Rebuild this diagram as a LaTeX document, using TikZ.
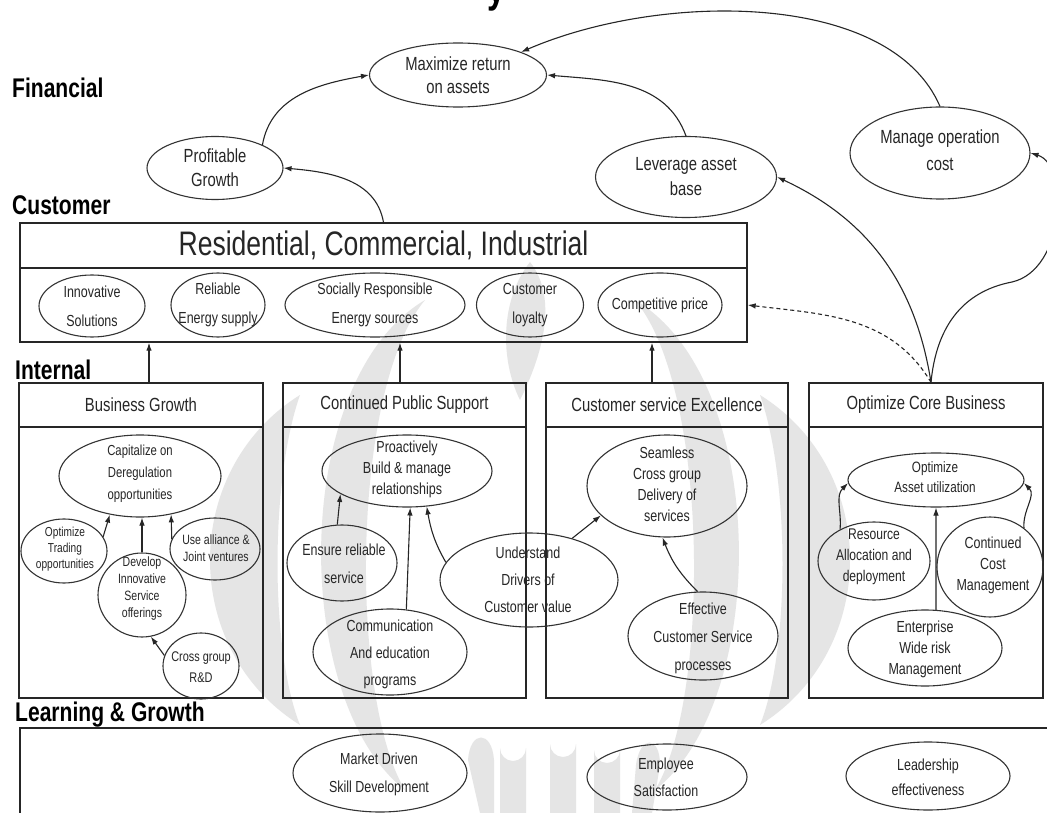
\documentclass[tikz,border=0pt]{standalone}
\usepackage{fontspec}
\setmainfont{Liberation Sans}[FakeStretch=0.78]
\usetikzlibrary{shapes.geometric,arrows.meta}
\begin{document}
\begin{tikzpicture}[x=1pt,y=-1pt,
  oval/.style={ellipse, draw=black!80, line width=1.1pt, inner sep=0pt},
  box/.style={rectangle, draw=black!85, line width=1.4pt, inner sep=0pt},
  arr/.style={draw=black!85, line width=1.1pt, -{Latex[length=8pt,width=5.5pt]}},
  sec/.style={anchor=base west, inner sep=0pt, font=\bfseries\fontsize{27}{27}\selectfont},
  ftxt/.style={align=center, inner sep=0pt, text=black!85, font=\fontsize{19}{24}\selectfont},
  ctxt/.style={align=center, inner sep=0pt, text=black!85, font=\fontsize{16}{29}\selectfont},
  htxt/.style={inner sep=0pt, text=black!85, font=\fontsize{19}{22}\selectfont},
  itxt/.style={align=center, inner sep=0pt, text=black!85, font=\fontsize{16}{#1}\selectfont},
  stxt/.style={align=center, inner sep=0pt, text=black!85, font=\fontsize{13.5}{#1}\selectfont},
  wmark/.style={fill=black!10, draw=none}
]
\useasboundingbox (0,0) rectangle (1047,813);
\clip (0,0) rectangle (1047,813);
\fill[white] (0,0) rectangle (1047,813);

% faint background emblem
\fill[wmark] (300,395) .. controls (180,470) and (180,650) .. (300,725)
  .. controls (270,650) and (270,480) .. cycle;
\fill[wmark] (760,395) .. controls (880,470) and (880,650) .. (760,725)
  .. controls (790,650) and (790,480) .. cycle;
\fill[wmark] (425,300) .. controls (290,380) and (290,700) .. (405,790)
  .. controls (350,700) and (350,390) .. cycle;
\fill[wmark] (635,300) .. controls (770,380) and (770,700) .. (655,790)
  .. controls (710,700) and (710,390) .. cycle;
\fill[wmark] (530,262) .. controls (500,300) and (500,360) .. (520,400)
  .. controls (540,360) and (560,300) .. cycle;
\fill[wmark] (480,813) -- (468,760) .. controls (470,730) and (492,730) .. (494,760) -- (494,813) -- cycle;
\foreach \cx/\cy in {513/748, 563/744, 607/750}
  \fill[wmark] (\cx-13,813) -- (\cx-13,\cy) arc[start angle=180, end angle=0, radius=13] -- (\cx+13,813) -- cycle;
\fill[wmark] (632,813) -- (636,765) .. controls (640,735) and (660,735) .. (660,765) -- (652,813) -- cycle;

% title fragment and perspective labels
\node[anchor=base, inner sep=0pt, font=\bfseries\fontsize{42}{42}\selectfont] (ttl) at (497,3) {y};
\node[sec] (lfin) at (12,98) {Financial};
\node[sec] (lcus) at (12,215) {Customer};
\node[sec] (lint) at (15,379) {Internal};
\node[sec] (llrn) at (15,721) {Learning \& Growth};

% financial objectives
\node[oval, minimum width=177pt, minimum height=64pt] (max) at (458,75) {};
\node[ftxt, font=\fontsize{19}{23}\selectfont] (max-t) at (max) {Maximize return\\on assets};
\node[oval, minimum width=136pt, minimum height=63pt] (prof) at (215,168) {};
\node[ftxt] (prof-t) at (prof) {Profitable\\Growth};
\node[oval, minimum width=181pt, minimum height=81pt] (lev) at (686,177) {};
\node[ftxt, font=\fontsize{19}{25}\selectfont] (lev-t) at (lev) {Leverage asset\\base};
\node[oval, minimum width=180pt, minimum height=92pt] (moc) at (940,153) {};
\node[ftxt, font=\fontsize{19}{27}\selectfont] (moc-t) at (940,150) {Manage operation\\cost};

% customer perspective
\node[box, minimum width=727pt, minimum height=45pt, font=\fontsize{34}{34}\selectfont, text=black!85] (custh) at (383.5,245.5) {Residential, Commercial, Industrial};
\node[box, minimum width=727pt, minimum height=74pt] (custb) at (383.5,305) {};
\node[oval, minimum width=106pt, minimum height=62pt] (inno) at (92,306) {};
\node[ctxt] (inno-t) at (inno) {Innovative\\Solutions};
\node[oval, minimum width=94pt, minimum height=64pt] (reli) at (218,305) {};
\node[ctxt] (reli-t) at (reli) {Reliable\\Energy supply};
\node[oval, minimum width=180pt, minimum height=64pt] (soc) at (375,305) {};
\node[ctxt] (soc-t) at (soc) {Socially Responsible\\Energy sources};
\node[oval, minimum width=107pt, minimum height=64pt] (loy) at (530,305) {};
\node[ctxt] (loy-t) at (loy) {Customer\\loyalty};
\node[oval, minimum width=124pt, minimum height=64pt] (comp) at (660,305) {};
\node[ctxt] (comp-t) at (comp) {Competitive price};

% internal perspective: four themes
\node[box, minimum width=244pt, minimum height=44pt] (bgh) at (141,405) {};
\node[htxt] (bgh-t) at (bgh) {Business Growth};
\node[box, minimum width=244pt, minimum height=271pt] (bgb) at (141,562.5) {};
\node[box, minimum width=243pt, minimum height=44pt] (cpsh) at (404.5,405) {};
\node[htxt] (cpsh-t) at (cpsh) {Continued Public Support};
\node[box, minimum width=243pt, minimum height=271pt] (cpsb) at (404.5,562.5) {};
\node[box, minimum width=242pt, minimum height=44pt] (cseh) at (667,405) {};
\node[htxt] (cseh-t) at (cseh) {Customer service Excellence};
\node[box, minimum width=242pt, minimum height=271pt] (cseb) at (667,562.5) {};
\node[box, minimum width=234pt, minimum height=44pt] (ocbh) at (926,405) {};
\node[htxt] (ocbh-t) at (ocbh) {Optimize Core Business};
\node[box, minimum width=234pt, minimum height=271pt] (ocbb) at (926,562.5) {};

% business growth
\node[oval, minimum width=162pt, minimum height=82pt] (cap) at (140,476) {};
\node[stxt=22, font=\fontsize{14.5}{22}\selectfont] (cap-t) at (140,474) {Capitalize on\\Deregulation\\opportunities};
\node[oval, minimum width=86pt, minimum height=64pt] (opt) at (64,551) {};
\node[stxt=16, font=\fontsize{13}{16}\selectfont] (opt-t) at (65,549) {Optimize\\Trading\\opportunities};
\node[oval, minimum width=88pt, minimum height=84pt] (dev) at (142,595) {};
\node[stxt=17] (dev-t) at (142,589) {Develop\\Innovative\\Service\\offerings};
\node[oval, minimum width=90pt, minimum height=62pt] (use) at (215,549) {};
\node[stxt=17] (use-t) at (216,548) {Use alliance \&\\Joint ventures};
\node[oval, minimum width=76pt, minimum height=66pt] (cross) at (201,666) {};
\node[stxt=21, font=\fontsize{14}{21}\selectfont] (cross-t) at (201,667) {Cross group\\R\&D};

% continued public support
\node[oval, minimum width=170pt, minimum height=72pt] (proa) at (407,471) {};
\node[itxt=21] (proa-t) at (407,469) {Proactively\\Build \& manage\\relationships};
\node[oval, minimum width=110pt, minimum height=76pt] (ens) at (342,563) {};
\node[itxt=28] (ens-t) at (344,564) {Ensure reliable\\service};
\node[oval, minimum width=154pt, minimum height=86pt] (comm) at (390,652) {};
\node[itxt=27] (comm-t) at (390,654) {Communication\\And education\\programs};
\node[oval, minimum width=178pt, minimum height=94pt] (und) at (529,580) {};
\node[itxt=27] (und-t) at (528,580) {Understand\\Drivers of\\Customer value};

% customer service excellence
\node[oval, minimum width=160pt, minimum height=102pt] (seam) at (667,486) {};
\node[itxt=21] (seam-t) at (667,484) {Seamless\\Cross group\\Delivery of\\services};
\node[oval, minimum width=150pt, minimum height=88pt] (eff) at (703,636) {};
\node[itxt=28] (eff-t) at (703,638) {Effective\\Customer Service\\processes};

% optimize core business
\node[oval, minimum width=176pt, minimum height=54pt] (oau) at (936,480) {};
\node[itxt=20, font=\fontsize{15}{20}\selectfont] (oau-t) at (935,477) {Optimize\\Asset utilization};
\node[oval, minimum width=112pt, minimum height=78pt] (res) at (874,561) {};
\node[itxt=21, font=\fontsize{15.5}{21}\selectfont] (res-t) at (874,557) {Resource\\Allocation and\\deployment};
\node[oval, minimum width=106pt, minimum height=100pt] (ccm) at (990,567) {};
\node[itxt=21] (ccm-t) at (993,565) {Continued\\Cost\\Management};
\node[oval, minimum width=154pt, minimum height=76pt] (ewr) at (925,648) {};
\node[itxt=21] (ewr-t) at (925,649) {Enterprise\\Wide risk\\Management};

% learning and growth
\node[box, minimum width=1050pt, minimum height=112pt] (lrn) at (545,784) {};
\node[oval, minimum width=174pt, minimum height=78pt] (mkt) at (380,773) {};
\node[itxt=28] (mkt-t) at (379,774) {Market Driven\\Skill Development};
\node[oval, minimum width=160pt, minimum height=66pt] (emp) at (667,777) {};
\node[itxt=27] (emp-t) at (666,777) {Employee\\Satisfaction};
\node[oval, minimum width=164pt, minimum height=68pt] (lead) at (928,776) {};
\node[itxt=25] (lead-t) at (928,777) {Leadership\\effectiveness};

% cause-and-effect links: financial
\draw[arr] (prof.26) to[out=80,in=190] (max.west);
\draw[arr] (custh.north) to[out=100,in=-5] (prof.east);
\draw[arr] (lev.north) to[out=110,in=-5] (max.east);
\draw[arr] (moc.north) .. controls (890,-10) and (660,-8) .. (max.20);
\coordinate (shoulder) at (1012,282);
\draw[arr] ([xshift=5pt]ocbh.north) to[out=99,in=-25] (lev.east);
\draw[arr] ([xshift=5pt]ocbh.north) .. controls (936,330) and (960,292) .. (shoulder)
  .. controls (1065,270) and (1070,165) .. (moc.east);
\draw[arr, dashed, dash pattern=on 4pt off 3pt] ([xshift=5pt]ocbh.north) to[out=121,in=-7] (custb.east);

% internal themes feeding the customer value proposition
\draw[arr] ([xshift=8pt]bgh.north) -- ([xshift=8pt]bgh.north |- custb.south);
\draw[arr] ([xshift=-4.5pt]cpsh.north) -- ([xshift=-4.5pt]cpsh.north |- custb.south);
\draw[arr] ([xshift=-15pt]cseh.north) -- ([xshift=-15pt]cseh.north |- custb.south);

% business growth links
\draw[arr] (opt.20) -- (cap.-128);
\draw[arr] (dev.north) -- (dev.north |- cap.south);
\draw[arr] (use.167) -- (cap.-51);
\draw[arr] (cross.164) -- (dev.-78);

% public support links
\draw[arr] (ens.97) -- (proa.-161);
\draw[arr] (comm.69) -- (proa.-85);
\draw[arr] (und.168) to[out=120,in=-80] (proa.-61);
\draw[arr] (und.44) -- (seam.-156);

% service excellence link
\draw[arr] (eff.97) to[bend left=12] (seam.-95);

% core business links
\draw[arr] (res.137) to[out=85,in=-135] (oau.182);
\draw[arr] (ewr.74) -- (oau.south);
\draw[arr] (ccm.49) to[out=95,in=-45] (oau.-2);
\end{tikzpicture}
\end{document}
